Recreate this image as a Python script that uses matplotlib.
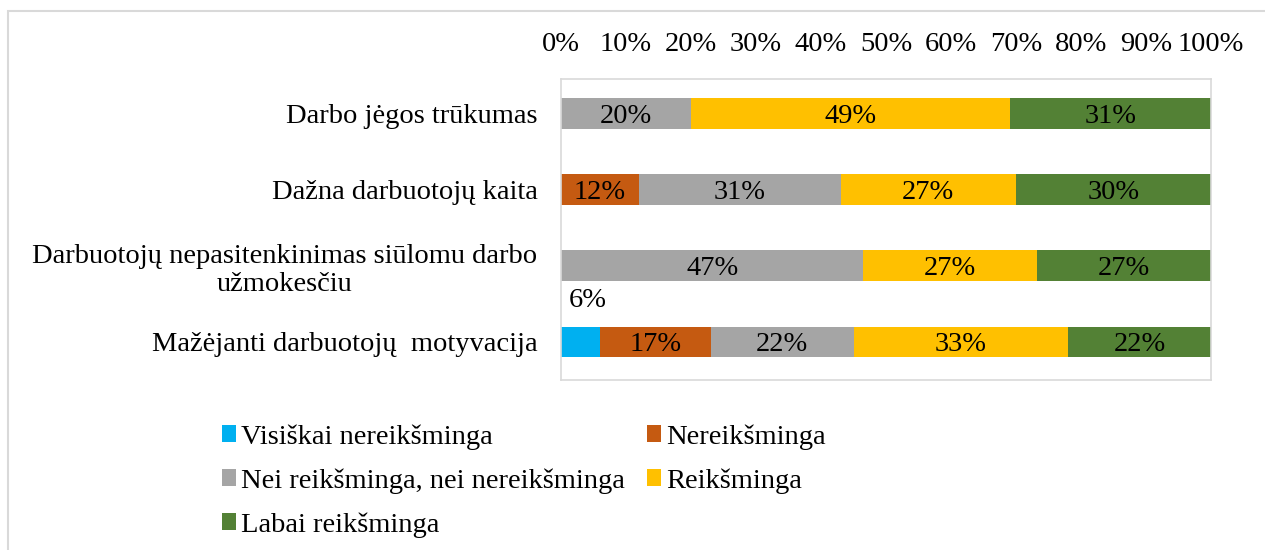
import numpy as np
import matplotlib
matplotlib.use('Agg')
import matplotlib.pyplot as plt
from matplotlib.patches import Rectangle

# --- Data
categories = ['Darbo jėgos trūkumas',
              'Dažna darbuotojų kaita',
              'Darbuotojų nepasitenkinimas siūlomu darbo\nužmokesčiu',
              'Mažėjanti darbuotojų  motyvacija']
series = ['Visiškai nereikšminga', 'Nereikšminga',
          'Nei reikšminga, nei nereikšminga', 'Reikšminga', 'Labai reikšminga']
visiskai     = [0, 0, 0, 6]
nereiksminga = [0, 12, 0, 17]
nei          = [20, 31, 47, 22]
reiksminga   = [49, 27, 27, 33]
labai        = [31, 30, 27, 22]
colors = ['#00B0F0', '#C55A11', '#A5A5A5', '#FFC000', '#538135']

plt.rcParams['font.family'] = ['Liberation Serif', 'DejaVu Serif']
fs = 20.5

vals = np.array([visiskai, nereiksminga, nei, reiksminga, labai], dtype=float)
totals = vals.sum(axis=0)
shares = vals/totals*100   # 100% stacked

fig = plt.figure(figsize=(12.65, 5.5), dpi=100)
ax = fig.add_axes([561/1265, 170/550, 650/1265, 301/550])
fig.patches.append(Rectangle((8/1265, -0.1), 1.1, 1.1 - 11/550 , transform=fig.transFigure,
                             fill=False, edgecolor='#d9d9d9', lw=1.5))

y = np.arange(len(categories))
left = np.zeros(len(categories))
handles = []
for i, name in enumerate(series):
    h = ax.barh(y, shares[i], left=left, height=0.4, color=colors[i], label=name)
    handles.append(h)
    for j in range(len(categories)):
        if vals[i, j] == 0:
            continue
        xc = left[j] + shares[i, j]/2
        txt = '%d%%' % vals[i, j]
        if shares[i, j] < 8:
            # small segment: label placed above the bar
            ax.annotate(txt, (xc, y[j]), xytext=(5, 32), textcoords='offset points',
                        ha='center', va='center_baseline', fontsize=fs)
        else:
            ax.text(xc, y[j], txt, ha='center', va='center_baseline', fontsize=fs)
    left += shares[i]

ax.set_xlim(0, 100)
ax.set_ylim(3.5, -0.45)
ax.xaxis.tick_top()
ax.set_xticks(np.arange(0, 101, 10))
ax.set_xticklabels(['%d%%' % t for t in range(0, 101, 10)])
ax.tick_params(axis='x', length=0, pad=16, labelsize=fs)
ax.tick_params(axis='y', length=0, pad=17, labelsize=fs)
ax.set_yticks(y)
ax.set_yticklabels(categories, multialignment='center')
for s in ax.spines.values():
    s.set_color('#d9d9d9')
    s.set_linewidth(1.2)

# legend: row-major order like the original
order = [0, 2, 4, 1, 3]
leg = fig.legend([handles[k] for k in order], [series[k] for k in order],
                 ncol=2, loc='upper left', bbox_to_anchor=(222/1265, 1-424/550),
                 frameon=False, fontsize=fs, handlelength=0.5, handleheight=0.5,
                 handletextpad=0.15, columnspacing=0.8, labelspacing=0.65,
                 borderpad=0, borderaxespad=0)

fig.savefig('out.png', dpi=100)
